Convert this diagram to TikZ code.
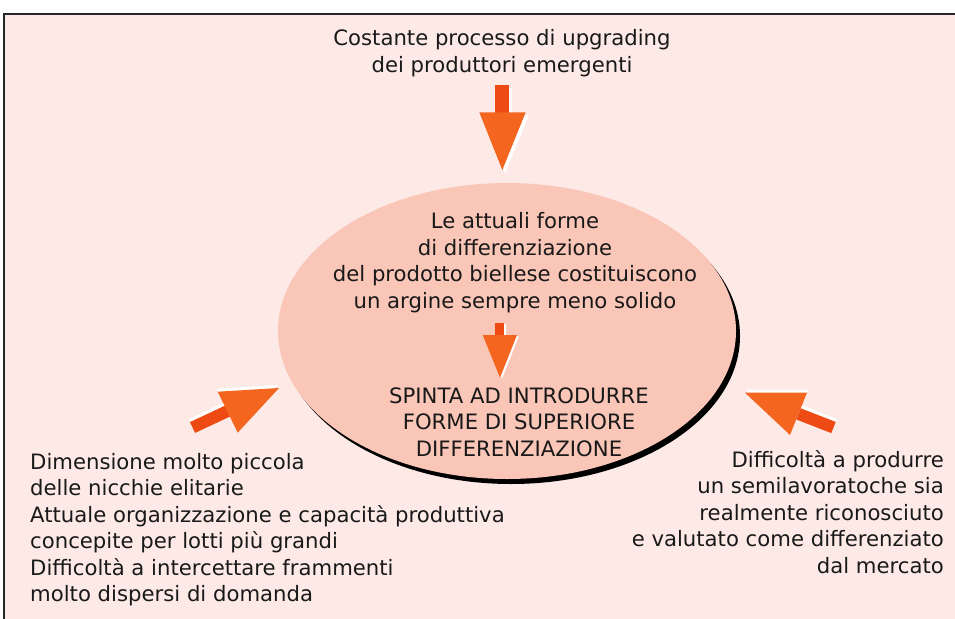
\documentclass[tikz,border=0pt]{standalone}
\usepackage{fontspec}
\usetikzlibrary{shapes.geometric}
\setmainfont{DejaVu Sans}
\definecolor{bgpink}{HTML}{FDEAE6}
\definecolor{ellfill}{HTML}{F9C6B8}
\definecolor{stemc}{HTML}{EE4A14}
\definecolor{headc}{HTML}{F46620}
\tikzset{
  txt/.style={inner sep=0pt, font=\fontsize{21.2}{26.5}\selectfont, text=black!90},
  stempart/.style={fill=stemc, draw=none},
  headpart/.style={fill=headc, draw=none},
  shadowpart/.style={fill=white, draw=none},
}
\begin{document}
\begin{tikzpicture}[x=1pt,y=-1pt]
\useasboundingbox (0,0) rectangle (955,618);
\fill[white] (0,0) rectangle (955,618);
% frame
\fill[bgpink] (4,14) rectangle (960,625);
\draw[line width=1.4pt, black!85] (4,625) -- (4,14) -- (960,14);
% ellipse with shadow
\fill[black] (511,336) ellipse [x radius=229, y radius=148];
\node[ellipse, fill=ellfill, minimum width=458pt, minimum height=296pt, inner sep=0pt] (ell) at (507,331) {};

% top arrow
\fill[shadowpart] (498,88) rectangle (512,116) (482.3,115.3) -- (528.7,115.3) -- (505.3,173) -- cycle;
\fill[stempart] (495,85) rectangle (509,113);
\fill[headpart] (479.3,112.3) -- (525.7,112.3) -- (502.3,170) -- cycle;
\coordinate (toptip) at (502.3,170);

% middle arrow
\fill[shadowpart] (497,324) rectangle (506,336) (484.7,336) -- (519,336) -- (502,378.7) -- cycle;
\fill[stempart] (495,323) rectangle (504,335);
\fill[headpart] (482.7,335) -- (517,335) -- (500,377.7) -- cycle;

% left arrow
\begin{scope}[shift={(-1,-3)}]
\fill[shadowpart] (195.1,432.9) -- (189.9,422.1) -- (225.1,405.6) -- (230.3,416.4) -- cycle;
\fill[shadowpart] (217.7,391.7) -- (279,388) -- (237.7,432.7) -- cycle;
\end{scope}
\fill[stempart] (195.1,432.9) -- (189.9,422.1) -- (225.1,405.6) -- (230.3,416.4) -- cycle;
\fill[headpart] (217.7,391.7) -- (279,388) -- (237.7,432.7) -- cycle;

% right arrow
\begin{scope}[shift={(1,-3)}]
\fill[shadowpart] (835.7,421.9) -- (831.3,433.1) -- (796.3,419.5) -- (800.7,408.3) -- cycle;
\fill[shadowpart] (745,392.7) -- (807,392.7) -- (790,435) -- cycle;
\end{scope}
\fill[stempart] (835.7,421.9) -- (831.3,433.1) -- (796.3,419.5) -- (800.7,408.3) -- cycle;
\fill[headpart] (745,392.7) -- (807,392.7) -- (790,435) -- cycle;

% texts (anchor = baseline of last line)
\node[txt, anchor=base, align=center] (top) at (502,72)
  {Costante processo di upgrading\\dei produttori emergenti};
\node[txt, anchor=base, align=center] (inner) at (515,308)
  {Le attuali forme\\di differenziazione\\del prodotto biellese costituiscono\\un argine sempre meno solido};
\node[txt, anchor=base, align=center] (spinta) at (519,456)
  {SPINTA AD INTRODURRE\\FORME DI SUPERIORE\\DIFFERENZIAZIONE};
\node[txt, anchor=base west, align=left] (left) at (30,601.5)
  {Dimensione molto piccola\\delle nicchie elitarie\\Attuale organizzazione e capacità produttiva\\concepite per lotti più grandi\\Difficoltà a intercettare frammenti\\molto dispersi di domanda};
\node[txt, anchor=base east, align=right] (right) at (944,573)
  {Difficoltà a produrre\\un semilavoratoche sia\\realmente riconosciuto\\e valutato come differenziato\\dal mercato};
\end{tikzpicture}
\end{document}
